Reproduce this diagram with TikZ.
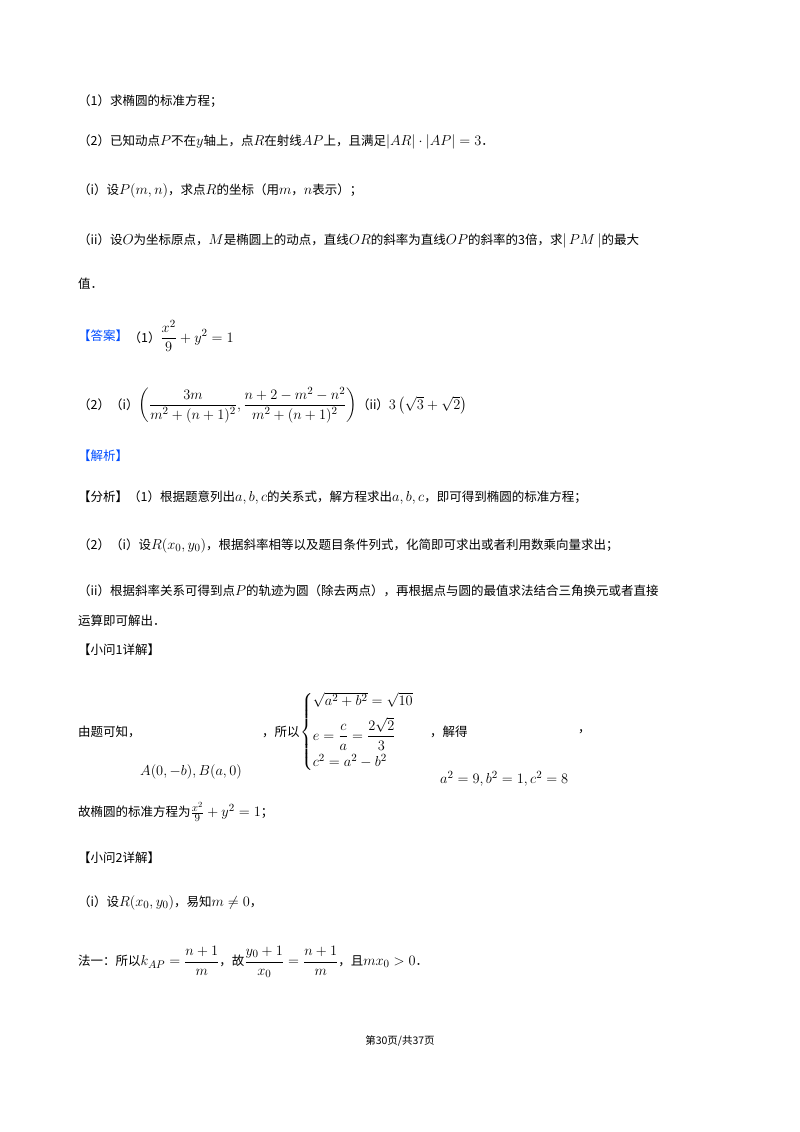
\documentclass[tikz,border=0pt]{standalone}
\usepackage{amsmath}
\usepackage{fontspec}
\newfontfamily\cjk{Noto Sans CJK SC}
\DeclareMathSizes{12.5}{14.5}{10.5}{8}
\DeclareMathSizes{14}{15}{11}{8.5}
\begin{document}
\begin{tikzpicture}[x=1pt,y=-1pt,every node/.style={anchor=west,inner sep=0pt,font=\cjk\fontsize{12.5}{15}\selectfont},
 blue/.style={text=blue!70!cyan}, mth/.style={font=\cjk\fontsize{14}{17}\selectfont}]
\useasboundingbox (0,0) rectangle (800,1132);
\node (l1) at (78,101) {（1）求椭圆的标准方程；};
\node (l2) at (78,142) {（2）已知动点$P$不在$y$轴上，点$R$在射线$AP$上，且满足$\left|AR\right|\cdot\left|AP\right|=3$．};
\node (l3) at (78,191) {（i）设$P(m,n)$，求点$R$的坐标（用$m$，$n$表示）；};
\node (l4) at (78,241) {（ii）设$O$为坐标原点，$M$是椭圆上的动点，直线$OR$的斜率为直线$OP$的斜率的3倍，求$|\,PM\,|$的最大};
\node (l5) at (78,284) {值．};
\node[blue] (a1) at (78,336) {【答案】};
\node (a1b) at (a1.east) [anchor=west] {（1）$\dfrac{x^2}{9}+y^2=1$};
\node (a2) at (78,405) {（2）（i）$\left(\dfrac{3m}{m^2+(n+1)^2},\dfrac{n+2-m^2-n^2}{m^2+(n+1)^2}\right)$（ii）$3\left(\sqrt3+\sqrt2\right)$};
\node[blue] (jx) at (78,456) {【解析】};
\node (f1) at (78,498) {【分析】（1）根据题意列出$a,b,c$的关系式，解方程求出$a,b,c$，即可得到椭圆的标准方程；};
\node (f2) at (78,546) {（2）（i）设$R(x_0,y_0)$，根据斜率相等以及题目条件列式，化简即可求出或者利用数乘向量求出；};
\node (f3) at (78,591) {（ii）根据斜率关系可得到点$P$的轨迹为圆（除去两点），再根据点与圆的最值求法结合三角换元或者直接};
\node (f4) at (78,621) {运算即可解出．};
\node (x1) at (78,650) {【小问1详解】};
\node (y1) at (78,732) {由题可知，};
\node[mth] (y2) at (140,772) {$A(0,-b),B(a,0)$};
\node (y3a) at (262,732) {，所以};
\node[mth] (y3) at (y3a.east) [anchor=west] {$\begin{cases}\sqrt{a^2+b^2}=\sqrt{10}\\[6pt] e=\dfrac{c}{a}=\dfrac{2\sqrt2}{3}\\[6pt] c^2=a^2-b^2\end{cases}$};
\node (y4) at (430,732) {，解得};
\node (y5) at (578,732) {，};
\node[mth] (y6) at (440,779) {$a^2=9,b^2=1,c^2=8$};
\node (g1) at (78,812) {故椭圆的标准方程为$\frac{x^2}{9}+y^2=1$；};
\node (x2) at (78,858) {【小问2详解】};
\node (i1) at (78,903) {（i）设$R(x_0,y_0)$，易知$m\neq0$，};
\node (fa) at (78,962) {法一：所以$k_{AP}=\dfrac{n+1}{m}$，故$\dfrac{y_0+1}{x_0}=\dfrac{n+1}{m}$，且$mx_0>0$．};
\node[anchor=center,font=\cjk\fontsize{10.5}{12}\selectfont] (pg) at (400,1041) {第30页/共37页};
\end{tikzpicture}
\end{document}
